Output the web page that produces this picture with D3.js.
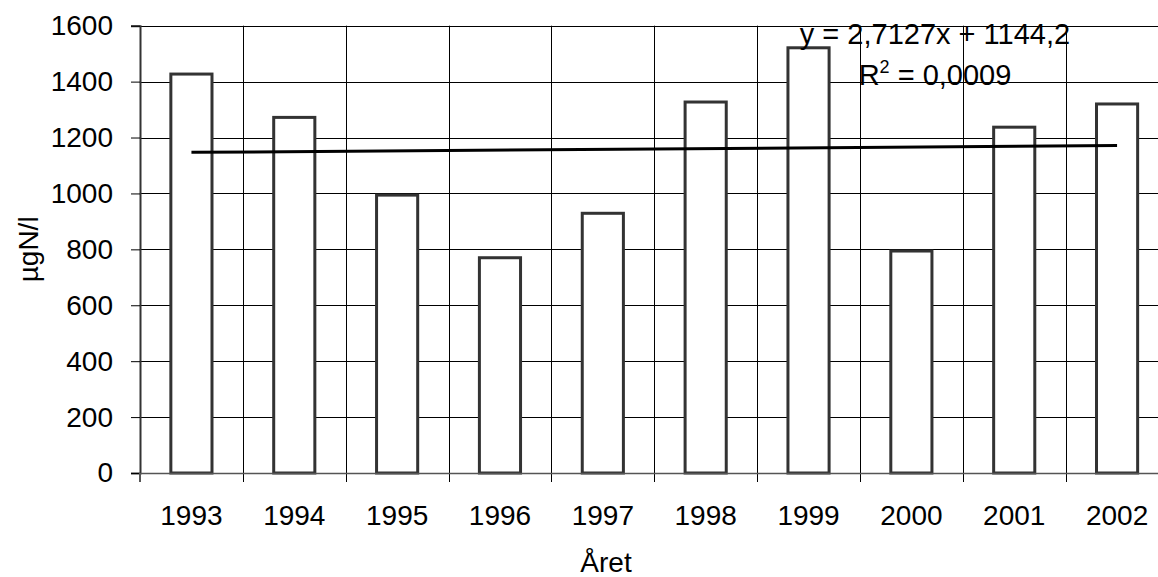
<!DOCTYPE html>
<html><head><meta charset="utf-8">
<script src="https://cdn.jsdelivr.net/npm/d3@7"></script>
<style>
html,body{margin:0;padding:0;background:#fff;overflow:hidden}
text{font-family:"Liberation Sans",Arial,sans-serif;fill:#000}
</style></head>
<body><svg id="c" width="1158" height="577"></svg>
<script>
const years = ["1993","1994","1995","1996","1997","1998","1999","2000","2001","2002"];
const values = [1427, 1272, 994, 770, 929, 1327, 1521, 794, 1237, 1320];
const yTicks = [0, 200, 400, 600, 800, 1000, 1200, 1400, 1600];
const trendSlope = 2.7127, trendIntercept = 1144.2;
const eqLabel = "y = 2,7127x + 1144,2";
const r2Value = "0,0009";
const yTitle = "µgN/l", xTitle = "Året";

const svg = d3.select("#c");
const L = 140, R = 1168.5, T = 25.7, B = 473;
const x = d3.scaleBand().domain(years).range([L, R]).paddingInner(0.6).paddingOuter(0.3);
const y = d3.scaleLinear().domain([0, 1600]).range([B, T]);
const step = x.step();
const fs = 28;

// horizontal gridlines
svg.append("g").selectAll("line").data(yTicks.filter(d => d > 0)).join("line")
  .attr("x1", L).attr("x2", R)
  .attr("y1", d => Math.round(y(d)) + 0.5).attr("y2", d => Math.round(y(d)) + 0.5)
  .attr("stroke", "#000").attr("stroke-width", 1);
// vertical gridlines at category boundaries
const bounds = d3.range(1, years.length).map(i => L + i * step);
svg.append("g").selectAll("line").data(bounds).join("line")
  .attr("x1", d => Math.round(d) + 0.5).attr("x2", d => Math.round(d) + 0.5)
  .attr("y1", T).attr("y2", B + 9)
  .attr("stroke", "#000").attr("stroke-width", 1);

// bars
svg.append("g").selectAll("rect").data(values).join("rect")
  .attr("x", (d, i) => x(years[i])).attr("width", x.bandwidth())
  .attr("y", d => y(d)).attr("height", d => B - y(d))
  .attr("fill", "#fff").attr("stroke", "#333").attr("stroke-width", 3);

// axes
const yAxis = svg.append("g").attr("transform", `translate(${L},0)`)
  .call(d3.axisLeft(y).tickValues(yTicks).tickSize(9).tickPadding(18).tickFormat(d3.format("d")));
yAxis.select(".domain").attr("stroke", "#333").attr("stroke-width", 2);
yAxis.selectAll(".tick line").attr("stroke", "#000");
yAxis.selectAll("text").attr("font-size", fs).attr("font-family", "Liberation Sans, Arial, sans-serif");

const xAxis = svg.append("g").attr("transform", `translate(0,${B})`)
  .call(d3.axisBottom(x).tickSize(0).tickPadding(32));
xAxis.select(".domain").attr("stroke", "#555").attr("stroke-width", 1.5);
xAxis.selectAll("text").attr("font-size", fs).attr("font-family", "Liberation Sans, Arial, sans-serif");
svg.append("line").attr("x1", L).attr("x2", L).attr("y1", B).attr("y2", B + 9).attr("stroke", "#555").attr("stroke-width", 2);

// trendline
const tl = d3.line().x(d => x(years[d - 1]) + x.bandwidth() / 2).y(d => y(trendSlope * d + trendIntercept));
svg.append("path").datum([1, years.length]).attr("d", tl)
  .attr("fill", "none").attr("stroke", "#000").attr("stroke-width", 3);

// equation
svg.append("text").attr("x", 935).attr("y", 44).attr("text-anchor", "middle").attr("font-size", 29).text(eqLabel);
const r2 = svg.append("text").attr("x", 935).attr("y", 85).attr("text-anchor", "middle").attr("font-size", 29);
r2.append("tspan").text("R");
r2.append("tspan").attr("font-size", 18).attr("dy", -12).text("2");
r2.append("tspan").attr("dy", 12).text(" = " + r2Value);

// titles
svg.append("text").attr("x", 606).attr("y", 572).attr("text-anchor", "middle").attr("font-size", fs).text(xTitle);
svg.append("text").attr("transform", `translate(38,${(T + B) / 2}) rotate(-90)`)
  .attr("text-anchor", "middle").attr("font-size", fs).text(yTitle);
</script></body></html>
